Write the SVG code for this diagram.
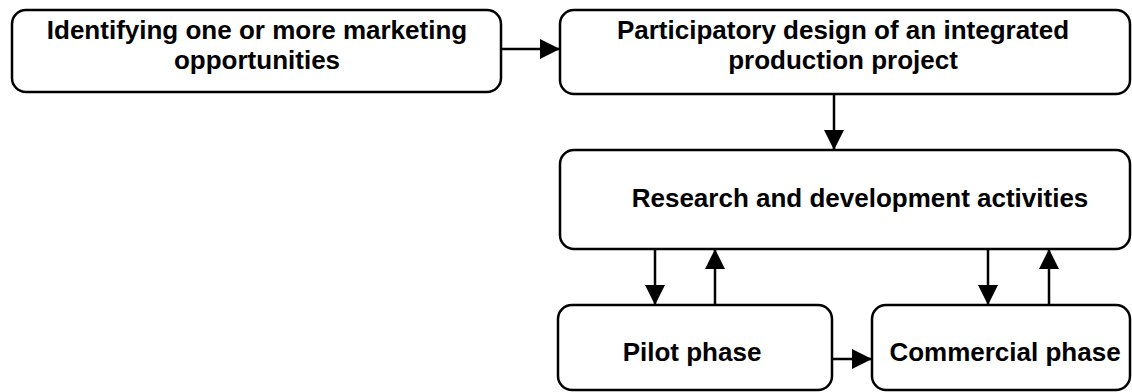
<svg xmlns="http://www.w3.org/2000/svg" width="1132" height="392" viewBox="0 0 1132 392">
<defs>
<style>
.box{fill:#fff;stroke:#000;stroke-width:2.5}
.t{font-family:"Liberation Sans",Arial,sans-serif;font-weight:bold;font-size:26px;fill:#000;text-anchor:middle}
.c{stroke:#000;stroke-width:2.5;fill:none}
</style>
<marker id="a" viewBox="0 0 20 20" refX="20" refY="10" markerWidth="20" markerHeight="20" markerUnits="userSpaceOnUse" orient="auto">
<path d="M0,0 L20,10 L0,20 Z" fill="#000"/>
</marker>
</defs>
<rect width="1132" height="392" fill="#fff"/>
<g id="n1">
<rect class="box" x="12" y="10" width="489" height="82" rx="14"/>
<text class="t" x="257" y="39">Identifying one or more marketing</text>
<text class="t" x="257" y="69">opportunities</text>
</g>
<g id="n2">
<rect class="box" x="560" y="10" width="570" height="84" rx="14"/>
<text class="t" x="843" y="39">Participatory design of an integrated</text>
<text class="t" x="843" y="69">production project</text>
</g>
<g id="n3">
<rect class="box" x="560" y="150" width="570" height="99" rx="14"/>
<text class="t" x="860" y="207">Research and development activities</text>
</g>
<g id="n4">
<rect class="box" x="558" y="305" width="274" height="85" rx="14"/>
<text class="t" x="692" y="361">Pilot phase</text>
</g>
<g id="n5">
<rect class="box" x="872" y="305" width="258" height="85" rx="14"/>
<text class="t" x="1005" y="361">Commercial phase</text>
</g>
<g id="connectors">
<line class="c" x1="501" y1="49" x2="560" y2="49" marker-end="url(#a)"/>
<line class="c" x1="834" y1="94" x2="834" y2="150" marker-end="url(#a)"/>
<line class="c" x1="655" y1="249" x2="655" y2="305" marker-end="url(#a)"/>
<line class="c" x1="715" y1="305" x2="715" y2="249" marker-end="url(#a)"/>
<line class="c" x1="988" y1="249" x2="988" y2="305" marker-end="url(#a)"/>
<line class="c" x1="1049" y1="305" x2="1049" y2="249" marker-end="url(#a)"/>
<line class="c" x1="832" y1="359" x2="872" y2="359" marker-end="url(#a)"/>
</g>
</svg>
